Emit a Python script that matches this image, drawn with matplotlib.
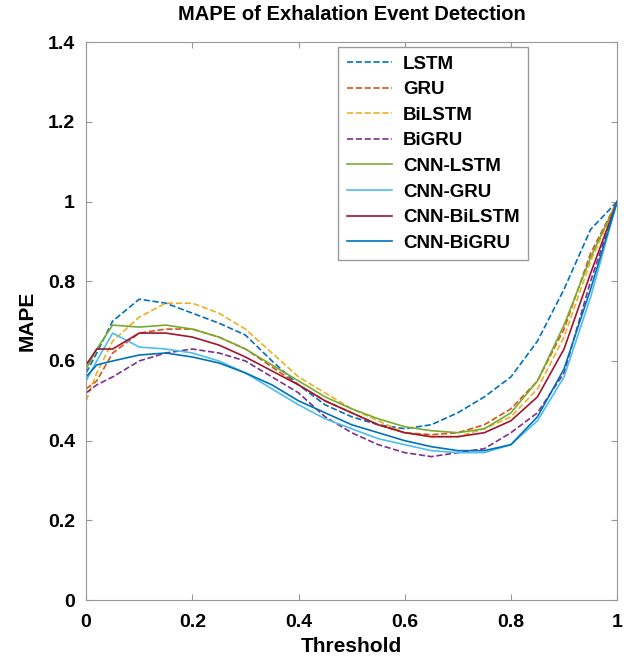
import matplotlib.pyplot as plt
import numpy as np

plt.rcParams["font.family"] = ["Liberation Sans", "DejaVu Sans"]
plt.rcParams["font.weight"] = "bold"

thresholds = [0.0, 0.02, 0.05, 0.1, 0.15, 0.2, 0.25, 0.3, 0.35, 0.4, 0.45, 0.5,
              0.55, 0.6, 0.65, 0.7, 0.75, 0.8, 0.85, 0.9, 0.95, 1.0]

lstm = [0.57, 0.62, 0.70, 0.755, 0.745, 0.72, 0.695, 0.665, 0.60, 0.54, 0.49, 0.46,
        0.44, 0.43, 0.44, 0.47, 0.51, 0.56, 0.65, 0.78, 0.93, 1.0]
gru = [0.53, 0.55, 0.62, 0.67, 0.68, 0.68, 0.66, 0.63, 0.585, 0.54, 0.50, 0.47,
       0.44, 0.42, 0.415, 0.42, 0.44, 0.48, 0.55, 0.68, 0.87, 1.0]
bilstm = [0.50, 0.57, 0.65, 0.71, 0.745, 0.745, 0.72, 0.68, 0.62, 0.56, 0.52, 0.48,
          0.45, 0.42, 0.41, 0.41, 0.43, 0.46, 0.53, 0.66, 0.85, 1.0]
bigru = [0.52, 0.54, 0.56, 0.60, 0.62, 0.63, 0.62, 0.60, 0.56, 0.52, 0.46, 0.42,
         0.39, 0.37, 0.36, 0.37, 0.38, 0.42, 0.47, 0.57, 0.80, 1.0]
cnn_lstm = [0.58, 0.63, 0.69, 0.685, 0.69, 0.68, 0.66, 0.63, 0.59, 0.55, 0.51, 0.48,
            0.455, 0.435, 0.425, 0.42, 0.43, 0.47, 0.55, 0.69, 0.86, 1.0]
cnn_gru = [0.55, 0.60, 0.67, 0.635, 0.63, 0.62, 0.60, 0.57, 0.53, 0.49, 0.455, 0.43,
           0.405, 0.39, 0.375, 0.37, 0.37, 0.39, 0.45, 0.56, 0.76, 1.0]
cnn_bilstm = [0.59, 0.63, 0.63, 0.67, 0.67, 0.66, 0.64, 0.61, 0.575, 0.54, 0.50, 0.47,
              0.44, 0.42, 0.41, 0.41, 0.42, 0.45, 0.51, 0.63, 0.82, 1.0]
cnn_bigru = [0.56, 0.59, 0.60, 0.615, 0.62, 0.61, 0.595, 0.57, 0.54, 0.50, 0.47, 0.44,
             0.42, 0.40, 0.385, 0.375, 0.375, 0.39, 0.46, 0.58, 0.78, 1.0]

series = [
    ("LSTM", lstm, "#0072BD", "--"),
    ("GRU", gru, "#D95319", "--"),
    ("BiLSTM", bilstm, "#EDB120", "--"),
    ("BiGRU", bigru, "#7E2F8E", "--"),
    ("CNN-LSTM", cnn_lstm, "#77AC30", "-"),
    ("CNN-GRU", cnn_gru, "#4DBEEE", "-"),
    ("CNN-BiLSTM", cnn_bilstm, "#A2142F", "-"),
    ("CNN-BiGRU", cnn_bigru, "#0072BD", "-"),
]

fig = plt.figure(figsize=(6.24, 6.69), dpi=100)
ax = fig.add_axes([0.138, 0.103, 0.851, 0.834])

for label, values, color, style in series:
    ax.plot(thresholds, values, linestyle=style, color=color, linewidth=1.2, label=label)

ax.set_xlim(0, 1)
ax.set_ylim(0, 1.4)
ax.set_xticks([0, 0.2, 0.4, 0.6, 0.8, 1])
ax.set_xticklabels(["0", "0.2", "0.4", "0.6", "0.8", "1"])
ax.set_yticks([0, 0.2, 0.4, 0.6, 0.8, 1, 1.2, 1.4])
ax.set_yticklabels(["0", "0.2", "0.4", "0.6", "0.8", "1", "1.2", "1.4"])
ax.tick_params(direction="in", top=True, right=True, labelsize=14, length=4,
               color="#999999")
ax.tick_params(axis="x", pad=10)
ax.tick_params(axis="y", pad=8)
for spine in ax.spines.values():
    spine.set_color("#999999")

ax.set_xlabel("Threshold", fontsize=15, fontweight="bold", labelpad=4)
ax.set_ylabel("MAPE", fontsize=15, fontweight="bold", labelpad=8)
ax.set_title("MAPE of Exhalation Event Detection", fontsize=14.5, fontweight="bold", pad=16)

leg = ax.legend(loc="upper right", bbox_to_anchor=(0.832, 0.991), borderaxespad=0,
                fontsize=13.5, handlelength=2.4, labelspacing=0.45, borderpad=0.45,
                handletextpad=0.6, fancybox=False, edgecolor="#999999", framealpha=1)
leg.get_frame().set_linewidth(1.0)

fig.savefig("out.png", dpi=100)
